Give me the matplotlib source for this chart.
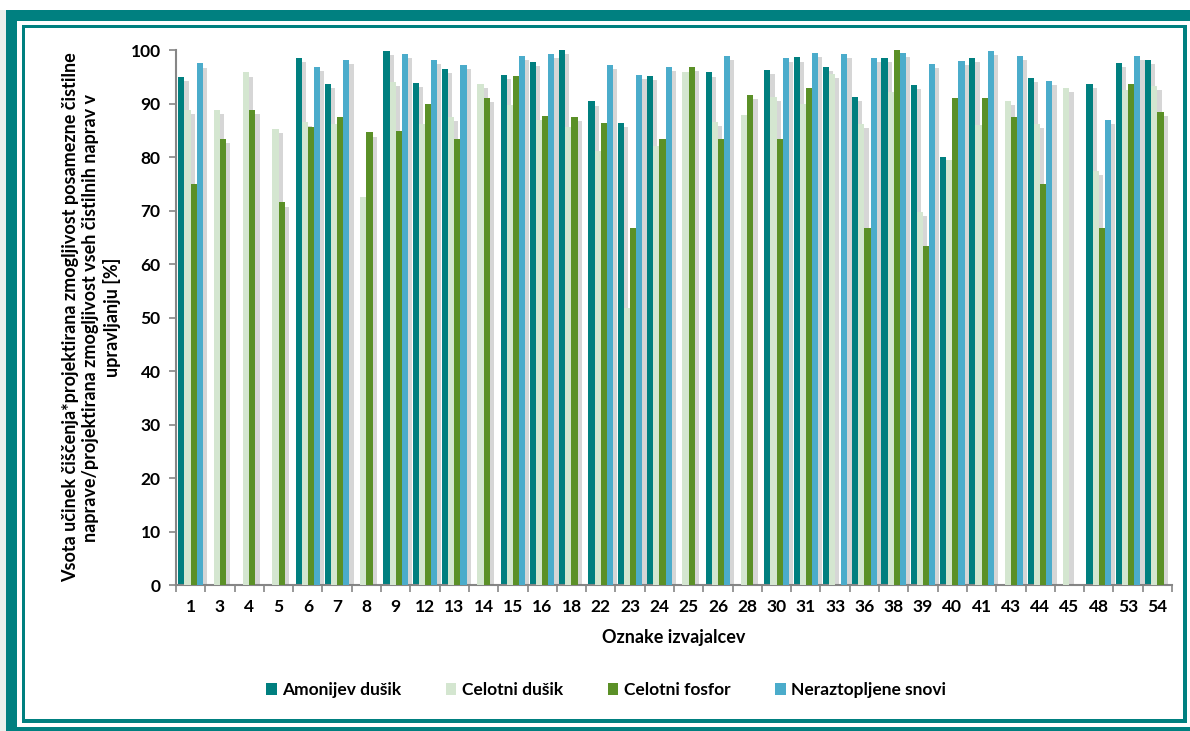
import numpy as np
import matplotlib
matplotlib.use('Agg')
import matplotlib.pyplot as plt
import matplotlib.patheffects as pe
from matplotlib.patches import Rectangle, Patch

nan = np.nan

# Oznake izvajalcev
categories = ['1', '3', '4', '5', '6', '7', '8', '9', '12', '13', '14', '15', '16', '18',
              '22', '23', '24', '25', '26', '28', '30', '31', '33', '36', '38', '39',
              '40', '41', '43', '44', '45', '48', '53', '54']

amonijev_dusik = [94.9, nan, nan, nan, 98.5, 93.7, nan, 99.8, 93.9, 96.5, nan, 95.3, 97.7, 100.0,
                  90.4, 86.4, 95.1, nan, 95.8, nan, 96.3, 98.6, 96.9, 91.3, 98.5, 93.4,
                  80.0, 98.5, nan, 94.8, nan, 93.7, 97.6, 98.1]

celotni_dusik = [88.8, 88.8, 95.8, 85.2, 86.5, 86.2, 72.6, 94.0, 86.2, 87.5, 93.7, 89.8, 87.0, 85.6,
                 81.1, 51.8, 82.0, 95.8, 86.6, 87.8, 91.2, 89.9, 95.5, 86.2, 92.2, 69.8,
                 79.5, 86.0, 90.5, 86.2, 92.9, 77.4, 92.5, 93.3]

celotni_fosfor = [75.0, 83.4, 88.8, 71.5, 85.6, 87.5, 84.6, 84.8, 90.0, 83.3, 91.0, 95.1, 87.6, 87.5,
                  86.4, 66.7, 83.3, 96.8, 83.3, 91.6, 83.3, 92.9, nan, 66.7, 100.0, 63.3,
                  91.0, 91.0, 87.5, 75.0, nan, 66.7, 93.7, 88.5]

neraztopljene_snovi = [97.5, nan, nan, nan, 96.8, 98.2, nan, 99.3, 98.2, 97.2, nan, 98.9, 99.3, nan,
                       97.2, 95.3, 96.8, nan, 98.9, nan, 98.5, 99.5, 99.3, 98.5, 99.5, 97.4,
                       97.9, 99.8, 98.9, 94.2, nan, 87.0, 98.9, nan]

series = [
    ('Amonijev dušik', amonijev_dusik, '#007F7F'),
    ('Celotni dušik', celotni_dusik, '#D4E6D0'),
    ('Celotni fosfor', celotni_fosfor, '#5B9027'),
    ('Neraztopljene snovi', neraztopljene_snovi, '#4BACCB'),
]

plt.rcParams['font.family'] = ['Lato', 'DejaVu Sans']

W, H = 1190, 731
fig = plt.figure(figsize=(W / 100, H / 100), dpi=100)


def px_rect(x0, y0, x1, y1, color):
    # rectangle given in pixel coords (origin top-left)
    fig.patches.append(Rectangle((x0 / W, 1 - y1 / H), (x1 - x0) / W, (y1 - y0) / H,
                                 transform=fig.transFigure, facecolor=color,
                                 edgecolor='none', zorder=-10))


# decorative frame
teal = '#008080'
px_rect(0, 10, 6, 731, '#EAF0EC')
px_rect(6, 10, 1190, 21, teal)
px_rect(6, 10, 17, 731, teal)
px_rect(6, 727, 1190, 731, teal)
px_rect(22, 25, 1187, 28, teal)
px_rect(22, 25, 25, 723, teal)
px_rect(1183, 25, 1187, 723, teal)
px_rect(22, 719, 1187, 723, teal)

ax = fig.add_axes([176 / W, 1 - 585 / H, 996 / W, 535 / H])

x = np.arange(len(categories))
width = 0.21
shadow = [pe.SimplePatchShadow(offset=(3, -3), shadow_rgbFace='#7a7a7a', alpha=0.3), pe.Normal()]
handles = []
for i, (name, vals, color) in enumerate(series):
    heights = np.array(vals, dtype=float)
    bars = ax.bar(x + (i - 1.5) * width, heights, width, color=color, zorder=2 + i)
    for b, h in zip(bars, heights):
        if np.isfinite(h):
            b.set_path_effects(shadow)
        else:
            b.set_visible(False)
    handles.append(Patch(facecolor=color, label=name))

ax.set_xlim(-0.5, len(categories) - 0.5)
ax.set_ylim(0, 100)
ax.set_yticks(range(0, 101, 10))
ax.set_xticks(x)
ax.set_xticklabels(categories, fontsize=12.5, fontweight='bold')
ax.set_xticks(np.arange(-0.5, len(categories), 1), minor=True)
ax.tick_params(axis='x', which='major', length=0, pad=10)
ax.tick_params(axis='x', which='minor', length=5, color='#868686', width=1.2)
ax.tick_params(axis='y', length=5, color='#868686', width=1.2, labelsize=12.5, pad=6)
for lab in ax.get_yticklabels():
    lab.set_fontweight('bold')

for s in ['top', 'right']:
    ax.spines[s].set_visible(False)
for s in ['left', 'bottom']:
    ax.spines[s].set_color('#868686')
    ax.spines[s].set_linewidth(1.5)

ax.set_ylabel('Vsota učinek čiščenja*projektirana zmogljivost posamezne čistilne\n'
              'naprave/projektirana zmogljivost vseh čistilnih naprav v\n'
              'upravljanju [%]', fontsize=13, fontweight='bold', labelpad=7,
              linespacing=1.25)
ax.set_xlabel('Oznake izvajalcev', fontsize=13, fontweight='bold', labelpad=10)

fig.legend(handles=handles, loc='center', bbox_to_anchor=(606 / W, 1 - 690 / H),
           ncol=4, frameon=False, handlelength=0.6, handleheight=0.75,
           handletextpad=0.3, columnspacing=2.6,
           prop={'size': 12.5, 'weight': 'bold'})

fig.savefig('out.png', dpi=100)
